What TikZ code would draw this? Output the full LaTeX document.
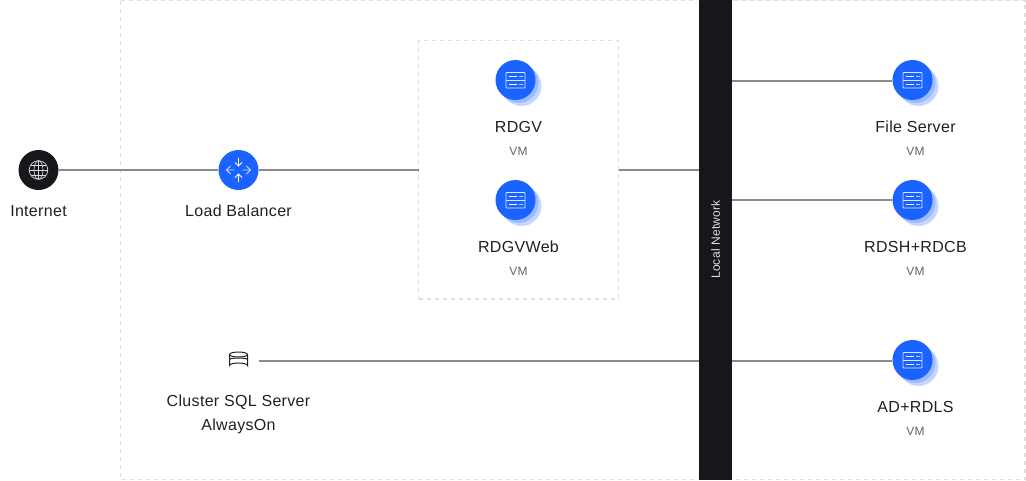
\documentclass[tikz,border=0pt]{standalone}
\usepackage{fontspec}
\setmainfont[LetterSpace=2]{Liberation Sans}
\definecolor{brandblue}{HTML}{1B63FF}
\definecolor{halo}{HTML}{C5D7FF}
\definecolor{halomid}{HTML}{9DBBFF}
\definecolor{inkblack}{HTML}{16171A}
\definecolor{wire}{HTML}{8A8A8A}
\definecolor{frame}{HTML}{DEDEDE}
\definecolor{labelc}{HTML}{1F2024}
\definecolor{subc}{HTML}{60636A}
\tikzset{
  px/.style={x=1pt,y=-1pt},
  wirel/.style={draw=wire,line width=2pt},
  zone/.style={draw=frame,line width=1.3pt,dash pattern=on 4.5pt off 3.5pt},
  title/.style={font=\fontsize{16}{18}\selectfont,text=labelc,inner sep=0pt,anchor=base},
  sub/.style={font=\fontsize{12}{14}\selectfont,text=subc,inner sep=0pt,anchor=base},
  disc/.style={circle,minimum size=40pt,inner sep=0pt,fill=brandblue},
  ico/.style={draw=white,line width=0.9pt},
  pics/vm/.style={code={
    \fill[halo] (6,6) circle (20);
    \fill[halomid] (3,3) circle (20);
    \fill[brandblue] (0,0) circle (20);
    \draw[ico,draw=white!85!brandblue,rounded corners=0.8pt] (-9.5,-7.5) rectangle (9.5,8);
    \draw[ico,draw=white!85!brandblue] (-9.5,0.5) -- (9.5,0.5);
    \draw[ico,line width=1pt] (-6.5,-3.5) -- (1.5,-3.5) (-6.5,4.5) -- (1.5,4.5);
    \draw[ico,draw=white!65!brandblue] (3.5,-3.5) -- (7,-3.5) (3.5,4.5) -- (7,4.5);
  }},
}
\begin{document}
\begin{tikzpicture}[px]
\useasboundingbox (0,0) rectangle (1026,480);
% zones
\draw[zone] (120.5,0.5) -- (698,0.5) (120.5,0.5) -- (120.5,479.5) -- (698,479.5);
\draw[zone] (733,0.5) -- (1025,0.5) -- (1025,479.5) -- (733,479.5);
\node[zone,draw,outer sep=0pt,minimum width=199.5pt,minimum height=258.5pt,inner sep=0pt,anchor=north west] (group) at (418.7,40.5) {};
% spine
\node[fill=inkblack,outer sep=0pt,minimum width=33.4pt,minimum height=480pt,inner sep=0pt,anchor=north west] (net) at (698.8,0) {};
\node[rotate=90,font=\fontsize{12}{14}\selectfont,text=white!88!black,inner sep=0pt] (netl) at (715.5,239.5) {Local Network};
% nodes
\node[disc,fill=inkblack] (inet) at (38.5,170) {};
\node[disc] (lb) at (238.5,170) {};
\node[minimum size=40pt,inner sep=0pt] (sql) at (238.5,361) {};
\node[minimum size=0pt,inner sep=0pt] (v1) at (515.5,80) {};
\node[minimum size=0pt,inner sep=0pt] (v2) at (515.5,200) {};
\node[disc,fill=none] (f1) at (912.5,80) {};
\node[disc,fill=none] (f2) at (912.5,200) {};
\node[disc,fill=none] (f3) at (912.5,360) {};
\coordinate (n1) at (732,81);
\coordinate (n2) at (732,200);
\coordinate (n3) at (732,361);
\coordinate (nl) at (699,170);
\coordinate (nq) at (699,361);
\coordinate (gl) at (418.5,170);
\coordinate (gr) at (618.5,170);
% connectors
\draw[wirel] (inet.east) -- (lb.west);
\draw[wirel] (lb.east) -- (gl);
\draw[wirel] (gr) -- (nl);
\draw[wirel] (sql.east) -- (nq);
\draw[wirel] (n1) -- (n1 -| f1.west);
\draw[wirel] (n2) -- (n2 -| f2.west);
\draw[wirel] (n3) -- (n3 -| f3.west);
% vm pics
\pic at (v1) {vm};
\pic at (v2) {vm};
\pic at (f1) {vm};
\pic at (f2) {vm};
\pic at (f3) {vm};
% globe
\begin{scope}[shift={(38.5,170)},draw=white!85!black,line width=0.7pt]
\draw (0,0) circle (9.3);
\draw (0,0) ellipse (4.5 and 9.3);
\draw (0,-9.3) -- (0,9.3) (-9.3,0) -- (9.3,0) (-7.8,-5) -- (7.8,-5) (-7.8,5) -- (7.8,5);
\end{scope}
% balancer arrows
\begin{scope}[shift={(238.5,170)},draw=white,line width=0.9pt]
\draw (0,-12) -- (0,-4) (-3.5,-7.5) -- (0,-4) -- (3.5,-7.5);
\draw (0,12) -- (0,4) (-3.5,7.5) -- (0,4) -- (3.5,7.5);
\draw[white!75!brandblue] (-12,0) -- (-4,0) (-8,-4) -- (-12,0) -- (-8,4);
\draw[white!75!brandblue] (12,0) -- (4,0) (8,-4) -- (12,0) -- (8,4);
\end{scope}
% database
\begin{scope}[shift={(238.5,360)},draw=labelc,line width=1pt]
\draw (-9,-5.5) -- (-9,5.5) arc[start angle=180,end angle=360,x radius=9,y radius=2.5] -- (9,-5.5);
\draw (0,-5.5) ellipse (9 and 2.5);
\draw (-9,-0.5) arc[start angle=180,end angle=360,x radius=9,y radius=1.5];
\end{scope}
% labels
\node[title] (t1) at (38.5,216) {Internet};
\node[title] (t2) at (238.5,216) {Load Balancer};
\node[title] (t3) at (238.5,406) {Cluster SQL Server};
\node[title] (t3b) at (238.5,430) {AlwaysOn};
\node[title] (t4) at (518.5,132) {RDGV};
\node[sub] (s4) at (518.5,155) {VM};
\node[title] (t5) at (518.5,252) {RDGVWeb};
\node[sub] (s5) at (518.5,275) {VM};
\node[title] (t6) at (915.5,132) {File Server};
\node[sub] (s6) at (915.5,155) {VM};
\node[title] (t7) at (915.5,252) {RDSH+RDCB};
\node[sub] (s7) at (915.5,275) {VM};
\node[title] (t8) at (915.5,412) {AD+RDLS};
\node[sub] (s8) at (915.5,435) {VM};
\end{tikzpicture}
\end{document}
